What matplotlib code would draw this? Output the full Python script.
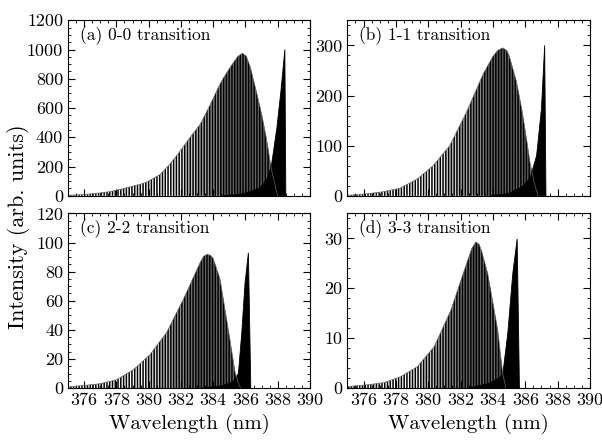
import numpy as np
import matplotlib
matplotlib.use("Agg")
import matplotlib.pyplot as plt
from matplotlib.ticker import MultipleLocator

plt.rcParams['font.family'] = 'cmr10'
plt.rcParams['axes.unicode_minus'] = False
plt.rcParams['hatch.linewidth'] = 1.1

# envelope of the resolved line branch (nm, intensity)
lam_a = [375.0, 375.5, 376.2, 377.0, 377.5, 378.0, 378.7, 379.5, 379.9, 380.7, 381.3, 381.9,
         382.5, 383.2, 383.8, 384.4, 384.63, 385.0, 385.25, 385.5, 385.8, 386.05, 386.3, 386.7,
         387.0, 387.3, 387.6, 387.9, 388.0]
int_a = [4, 6, 11, 20, 27, 38, 57, 80, 95, 145, 215, 298, 390, 490, 620, 760, 805, 870, 910,
         950, 975, 955, 880, 700, 560, 390, 185, 40, 0]
# band head region (nm, intensity)
head_lam_a = [384.5, 385.5, 386.2, 386.9, 387.3, 387.6, 387.94, 388.2, 388.44, 388.5]
head_int_a = [0, 8, 25, 55, 110, 200, 460, 720, 1000, 0]

lam_b = [375.0, 376.2, 377.2, 378.24, 379.3, 380.3, 381.33, 382.37, 383.4, 384.0, 384.3,
         384.6, 384.85, 385.0, 385.46, 385.8, 386.08, 386.3, 386.6, 386.8]
int_b = [1, 4, 8, 15, 33, 60, 100, 167, 243, 278, 290, 295, 290, 280, 227, 170, 113, 65, 20, 0]
head_lam_b = [383.8, 385.0, 385.8, 386.3, 386.7, 387.0, 387.2, 387.28]
head_int_b = [0, 5, 18, 35, 80, 173, 300, 0]

lam_c = [375.0, 376.0, 376.98, 378.0, 379.05, 380.08, 381.1, 382.15, 383.18, 383.4, 383.64,
         383.85, 384.0, 384.42, 385.04, 385.35, 385.6, 385.7]
int_c = [0.8, 1.8, 3, 5.7, 12.6, 23, 38, 61, 86, 90.5, 92, 91, 89, 75, 33, 11, 2, 0]
head_lam_c = [383.3, 384.5, 385.2, 385.56, 385.77, 385.97, 386.18, 386.33]
head_int_c = [0, 1.5, 4, 10, 38, 72, 93, 0]

lam_d = [375.0, 376.24, 377.27, 378.3, 379.33, 380.37, 381.4, 382.43, 382.7, 382.95, 383.15,
         383.3, 383.68, 384.3, 384.6, 384.8]
int_d = [0.3, 0.66, 1.1, 2.3, 4.3, 8.3, 15.6, 25.5, 28, 29.3, 28.8, 27.5, 22.9, 11.6, 3, 0]
head_lam_d = [382.5, 383.8, 384.6, 384.92, 385.23, 385.5, 385.64]
head_int_d = [0, 1, 2.5, 11, 23, 29.9, 0]

labels = ['(a) 0-0 transition', '(b) 1-1 transition', '(c) 2-2 transition', '(d) 3-3 transition']
ylims = [1200, 350, 120, 35]
ymajor = [200, 100, 20, 10]
yminor = [50, 20, 5, 2]
# where the gaps between lines turn grey (style only)
shade = [(381.5, 385.0), (380.5, 384.0), (379.5, 383.0), (379.0, 382.4)]

panels = [(lam_a, int_a, head_lam_a, head_int_a),
          (lam_b, int_b, head_lam_b, head_int_b),
          (lam_c, int_c, head_lam_c, head_int_c),
          (lam_d, int_d, head_lam_d, head_int_d)]

fig = plt.figure(figsize=(6.02, 4.41), dpi=100)
boxes = [[0.113, 0.556, 0.402, 0.398], [0.577, 0.556, 0.403, 0.398],
         [0.113, 0.120, 0.402, 0.396], [0.577, 0.120, 0.403, 0.396]]

for i in range(4):
    ax = fig.add_axes(boxes[i])
    lam, inten, hl, hi = panels[i]
    ymax = ylims[i]

    env = ax.fill_between(lam, 0, inten, facecolor='none', edgecolor='none', linewidth=0)
    clip = env.get_paths()[0]

    # grey background between the dense lines
    s0, s1 = shade[i]
    xs = np.linspace(375, 390, 300)
    g = np.clip((xs - s0) / (s1 - s0), 0, 1)
    img = 1.0 - 0.6 * g
    im = ax.imshow(np.tile(img, (2, 1)), cmap='gray', vmin=0, vmax=1, aspect='auto',
                   extent=[375, 390, 0, ymax], origin='lower', interpolation='bilinear')
    im.set_clip_path(clip, transform=ax.transData)

    ax.fill_between(lam, 0, inten, facecolor='none', edgecolor='black', hatch='||||||',
                    linewidth=0)
    ax.plot(lam, inten, color='0.4', lw=0.5)
    ax.fill(hl + [hl[0]], hi + [0], color='black', lw=0.6)

    ax.set_xlim(375, 390)
    ax.set_ylim(0, ymax)
    ax.xaxis.set_major_locator(MultipleLocator(2))
    ax.xaxis.set_minor_locator(MultipleLocator(0.5))
    ax.yaxis.set_major_locator(MultipleLocator(ymajor[i]))
    ax.yaxis.set_minor_locator(MultipleLocator(yminor[i]))
    ax.tick_params(which='both', direction='in', top=True, right=True, labelsize=13)
    ax.tick_params(which='major', length=5, width=0.8)
    ax.tick_params(which='minor', length=2.5, width=0.6)
    if i < 2:
        ax.tick_params(labelbottom=False)
    else:
        ax.set_xlabel('Wavelength (nm)', fontsize=15, labelpad=4)
    ax.text(0.05, 0.965, labels[i], transform=ax.transAxes, va='top', ha='left', fontsize=12.5)

fig.text(0.03, 0.485, 'Intensity (arb. units)', rotation=90, ha='center', va='center',
         fontsize=16)

fig.savefig('out.png', dpi=100)
